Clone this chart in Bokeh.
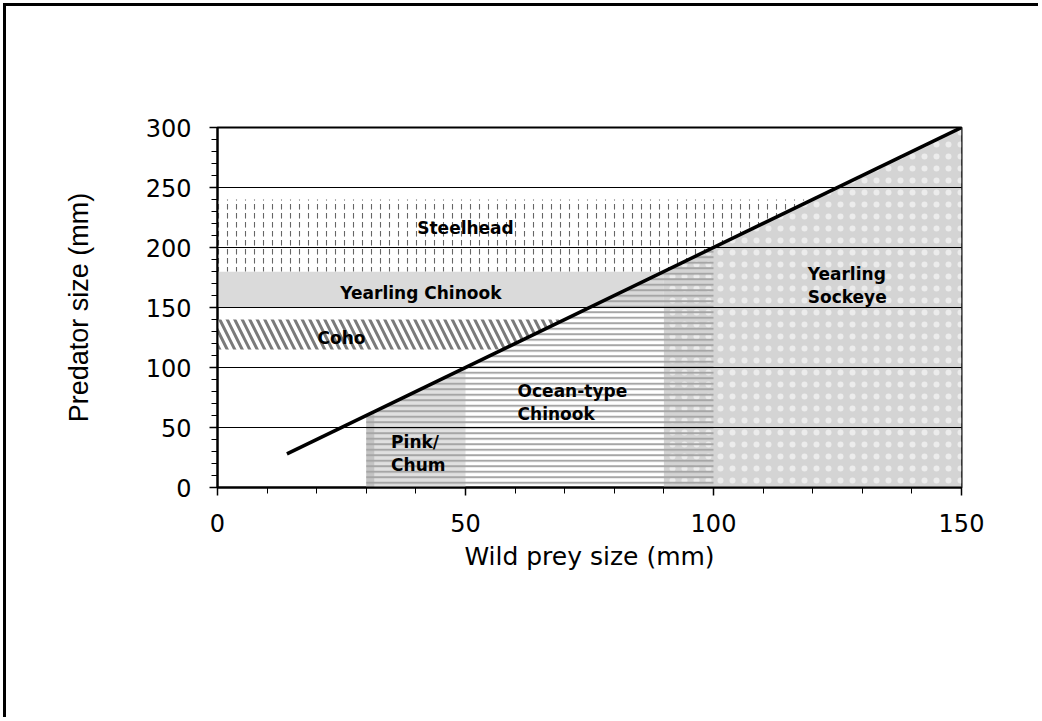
import numpy as np
from bokeh.plotting import figure
from bokeh.models import Range1d, FixedTicker, ColumnDataSource, InlineStyleSheet
from bokeh.core.properties import value
from bokeh.embed import file_html
from bokeh.resources import INLINE

# ---- data (sizes in mm) ----
band_species = ["Steelhead", "Yearling Chinook", "Coho"]
band_pred_low = [180, 150, 115]
band_pred_high = [240, 180, 140]
band_clip = [True, False, True]

prey_species = ["Pink/Chum", "Ocean-type Chinook", "Yearling Sockeye"]
prey_low = [30, 30, 90]
prey_high = [50, 100, 150]

line_prey = [14, 150]
line_pred = [28, 300]

x_ticks = [0, 50, 100, 150]
y_ticks = [0, 50, 100, 150, 200, 250, 300]

# ---- label layout ----
label_text = ["Steelhead", "Yearling Chinook", "Coho", "Pink/\nChum", "Ocean-type\nChinook", "Yearling\nSockeye"]
label_px = [50, 41, 25, 35, 60.5, 119]
label_py = [216, 162, 125, 28, 71, 168.5]
label_align = ["center", "center", "center", "left", "left", "left"]


def line_x(y):
    return float(np.interp(y, line_pred, line_prey))


def line_y(x):
    return float(np.interp(x, line_prey, line_pred))


def band_poly(i):
    lo, hi = band_pred_low[i], band_pred_high[i]
    if band_clip[i]:
        return [0, 0, line_x(hi), line_x(lo)], [lo, hi, hi, lo]
    return [0, 0, line_x(hi), line_x(hi)], [lo, hi, hi, lo]


def prey_poly(i):
    lo, hi = prey_low[i], prey_high[i]
    return [lo, lo, hi, hi], [0, line_y(lo), line_y(hi), 0]


W, H = 1035, 714
p = figure(width=W, height=H, x_range=Range1d(0, 150), y_range=Range1d(0, 300),
           output_backend="svg", toolbar_location=None,
           min_border_left=211, min_border_right=W - 211 - 744,
           min_border_top=121, min_border_bottom=H - 121 - 360)
p.stylesheets = [InlineStyleSheet(css=":host { border-left: 3px solid black; border-top: 3px solid black; margin-left: 3px; margin-top: 3px; }")]
p.background_fill_color = "white"
p.border_fill_color = "white"
p.outline_line_color = "black"
p.outline_line_width = 2

# Pink/Chum (grey background)
xs, ys = prey_poly(0)
p.patch(xs, ys, fill_color="#e0e0e0", line_color=None)
p.patch([xs[0], xs[0], xs[0] + 1.6, xs[0] + 1.6], [0, ys[1], ys[1] + 3, 0],
        fill_color="#c4c4c4", line_color=None)
# Yearling Sockeye
xs, ys = prey_poly(2)
p.patch(xs, ys, fill_color="#d4d4d4", line_color=None,
        hatch_pattern="dot", hatch_color="white", hatch_scale=12, hatch_alpha=0.55)
# Yearling Chinook
xs, ys = band_poly(1)
p.patch(xs, ys, fill_color="#dadada", line_color=None)
# Ocean-type Chinook stripes
xs, ys = prey_poly(1)
p.patch(xs, ys, fill_alpha=0, line_color=None,
        hatch_pattern="horizontal_line", hatch_color="#a6a6a6", hatch_scale=5.5, hatch_weight=2)
# Steelhead
xs, ys = band_poly(0)
p.patch(xs, ys, fill_color="white", line_color=None,
        hatch_pattern="vertical_dash", hatch_color="#666666", hatch_scale=9, hatch_weight=1.1)
# Coho
xs, ys = band_poly(2)
p.patch(xs, ys, fill_color="white", line_color=None,
        hatch_pattern="left_diagonal_line", hatch_color="#7a7a7a", hatch_scale=15, hatch_weight=3)

# predator = 2 x prey line
p.line(line_prey, line_pred, line_color="black", line_width=3.5)

# labels
src = ColumnDataSource(dict(x=label_px, y=label_py, t=label_text, a=label_align))
p.text(x="x", y="y", text="t", text_align="a", text_baseline="middle", source=src,
       text_font=value("DejaVu Sans"), text_font_style="bold", text_font_size="17px",
       text_color="black", text_line_height=1.15)

# grid
p.xgrid.visible = False
p.ygrid.ticker = FixedTicker(ticks=y_ticks[1:-1])
p.ygrid.grid_line_color = "black"
p.ygrid.grid_line_width = 1
p.ygrid.level = "guide"

# axes
p.xaxis.ticker = FixedTicker(ticks=x_ticks, minor_ticks=list(range(0, 151, 10)))
p.yaxis.ticker = FixedTicker(ticks=y_ticks, minor_ticks=list(range(0, 301, 10)))
for ax in (p.xaxis[0], p.yaxis[0]):
    ax.axis_line_color = "black"
    ax.axis_line_width = 2
    ax.major_tick_line_color = "black"
    ax.minor_tick_line_color = "black"
    ax.major_tick_line_width = 1.5
    ax.minor_tick_line_width = 1
    ax.major_tick_in = 0
    ax.minor_tick_in = 0
    ax.major_tick_out = 8
    ax.minor_tick_out = 6
    ax.major_label_text_font = "DejaVu Sans"
    ax.major_label_text_font_size = "24px"
    ax.major_label_text_color = "black"
    ax.axis_label_text_font_style = "normal"
    ax.axis_label_text_color = "black"

p.xaxis.axis_label = "Wild prey size (mm)"
p.xaxis.axis_label_text_font = "DejaVu Sans"
p.xaxis.axis_label_text_font_size = "25px"
p.xaxis.major_label_standoff = 18
p.xaxis.axis_label_standoff = 7

p.yaxis.axis_label = "Predator size (mm)"
p.yaxis.axis_label_text_font = "Liberation Sans"
p.yaxis.axis_label_text_font_size = "27px"
p.yaxis.major_label_standoff = 18
p.yaxis.axis_label_standoff = 49

open("out.html", "w").write(file_html(p, INLINE))
